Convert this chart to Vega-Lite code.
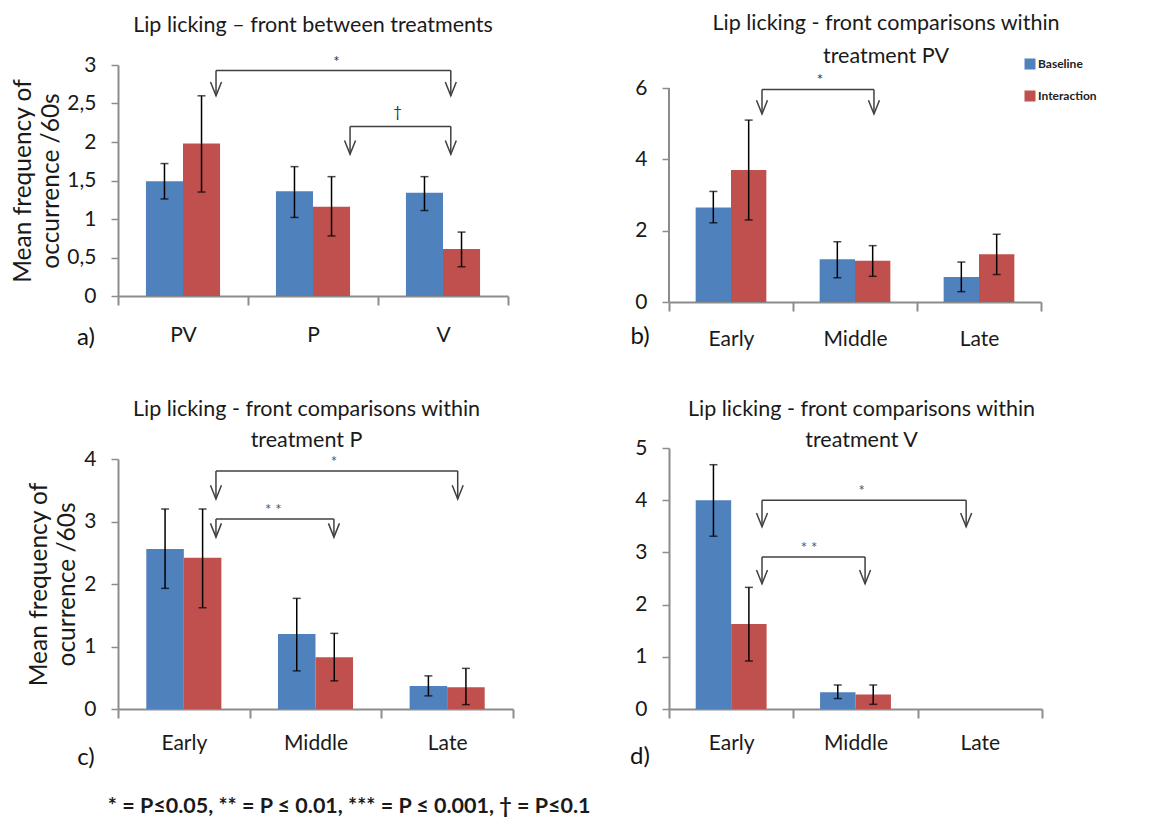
{
  "$schema": "https://vega.github.io/schema/vega-lite/v6.json",
  "background": "white",
  "padding": {"left": 10, "top": 12, "right": 0, "bottom": 0},
  "config": {"font": "Lato", "view": {"stroke": null}, "axis": {"labelOverlap": false}},
  "title": {"text": "* = P≤0.05,  ** = P ≤ 0.01,  *** = P ≤ 0.001, † = P≤0.1", "orient": "bottom", "anchor": "start", "frame": "bounds", "fontSize": 21.5, "fontWeight": "bold", "color": "#1a1a1a", "dx": 97, "offset": 26},
  "datasets": {
    "a": [
      {"cat": "PV", "series": "Baseline", "value": 1.49, "lo": 1.26, "hi": 1.72},
      {"cat": "PV", "series": "Interaction", "value": 1.98, "lo": 1.35, "hi": 2.6},
      {"cat": "P", "series": "Baseline", "value": 1.36, "lo": 1.02, "hi": 1.68},
      {"cat": "P", "series": "Interaction", "value": 1.16, "lo": 0.78, "hi": 1.55},
      {"cat": "V", "series": "Baseline", "value": 1.34, "lo": 1.11, "hi": 1.55},
      {"cat": "V", "series": "Interaction", "value": 0.61, "lo": 0.38, "hi": 0.83}
    ],
    "b": [
      {"cat": "Early", "series": "Baseline", "value": 2.65, "lo": 2.22, "hi": 3.1},
      {"cat": "Early", "series": "Interaction", "value": 3.7, "lo": 2.3, "hi": 5.1},
      {"cat": "Middle", "series": "Baseline", "value": 1.2, "lo": 0.68, "hi": 1.69},
      {"cat": "Middle", "series": "Interaction", "value": 1.16, "lo": 0.72, "hi": 1.58},
      {"cat": "Late", "series": "Baseline", "value": 0.7, "lo": 0.29, "hi": 1.12},
      {"cat": "Late", "series": "Interaction", "value": 1.34, "lo": 0.77, "hi": 1.9}
    ],
    "c": [
      {"cat": "Early", "series": "Baseline", "value": 2.56, "lo": 1.93, "hi": 3.2},
      {"cat": "Early", "series": "Interaction", "value": 2.42, "lo": 1.62, "hi": 3.2},
      {"cat": "Middle", "series": "Baseline", "value": 1.2, "lo": 0.61, "hi": 1.77},
      {"cat": "Middle", "series": "Interaction", "value": 0.83, "lo": 0.45, "hi": 1.21},
      {"cat": "Late", "series": "Baseline", "value": 0.37, "lo": 0.21, "hi": 0.53},
      {"cat": "Late", "series": "Interaction", "value": 0.35, "lo": 0.07, "hi": 0.65}
    ],
    "d": [
      {"cat": "Early", "series": "Baseline", "value": 4.0, "lo": 3.31, "hi": 4.68},
      {"cat": "Early", "series": "Interaction", "value": 1.63, "lo": 0.92, "hi": 2.33},
      {"cat": "Middle", "series": "Baseline", "value": 0.32, "lo": 0.2, "hi": 0.46},
      {"cat": "Middle", "series": "Interaction", "value": 0.28, "lo": 0.09, "hi": 0.46},
      {"cat": "Late", "series": "Baseline", "value": 0, "lo": null, "hi": null},
      {"cat": "Late", "series": "Interaction", "value": 0, "lo": null, "hi": null}
    ],
    "abr": [
      {"xa": 0.754, "xb": 2.56, "ytop": 2.93, "ytip": 2.6, "xm": 1.68, "ly": 3.08, "sig": "*"},
      {"xa": 1.785, "xb": 2.56, "ytop": 2.2, "ytip": 1.84, "xm": 2.15, "ly": 2.43, "sig": "†"}
    ],
    "bbr": [
      {"xa": 0.75, "xb": 1.653, "ytop": 5.96, "ytip": 5.27, "xm": 1.218, "ly": 6.3, "sig": "*"}
    ],
    "cbr": [
      {"xa": 0.744, "xb": 2.58, "ytop": 3.81, "ytip": 3.36, "xm": 1.64, "ly": 4.0, "sig": "*"},
      {"xa": 0.744, "xb": 1.64, "ytop": 3.04, "ytip": 2.75, "xm": 1.18, "ly": 3.23, "sig": "* *"}
    ],
    "dbr": [
      {"xa": 0.748, "xb": 2.39, "ytop": 4.0, "ytip": 3.49, "xm": 1.55, "ly": 4.23, "sig": "*"},
      {"xa": 0.748, "xb": 1.577, "ytop": 2.91, "ytip": 2.4, "xm": 1.126, "ly": 3.14, "sig": "* *"}
    ]
  },
  "resolve": {"scale": {"x": "independent", "y": "independent", "xOffset": "independent", "color": "independent"}, "legend": {"color": "independent"}},
  "columns": 2,
  "align": "none",
  "spacing": {"row": 48, "column": 116},
  "concat": [
    {
      "width": 390, "height": 231,
      "title": {"text": "Lip licking – front between treatments", "fontSize": 21.5, "fontWeight": "normal", "color": "#1a1a1a", "offset": 18, "frame": "group"},
      "resolve": {"scale": {"x": "independent"}, "axis": {"y": "independent"}},
      "layer": [
        {
          "data": {"name": "a"},
          "resolve": {"axis": {"y": "independent"}},
          "encoding": {
            "x": {"field": "cat", "type": "nominal", "title": null, "scale": {"domain": ["PV", "P", "V"], "paddingInner": 0, "paddingOuter": 0},
              "axis": {"tickBand": "extent", "tickSize": 9, "labelFontSize": 21, "labelPadding": 19, "labelAngle": 0, "labelColor": "#1a1a1a", "domainColor": "#8c8c8c", "domainWidth": 2, "tickColor": "#8c8c8c", "tickWidth": 2}},
            "xOffset": {"field": "series", "type": "nominal", "scale": {"domain": ["Baseline", "Interaction"], "paddingInner": 0, "paddingOuter": 0.754}}
          },
          "layer": [
            {"mark": {"type": "bar"},
             "encoding": {
               "y": {"field": "value", "type": "quantitative", "scale": {"domain": [0, 3], "nice": false},
                 "axis": {"title": ["Mean frequency of", "occurrence /60s"], "values": [0, 0.5, 1, 1.5, 2, 2.5, 3], "format": "~g", "labelExpr": "replace(datum.label, '.', ',')", "labelOverlap": false, "grid": false, "labelFontSize": 21, "labelColor": "#1a1a1a", "labelPadding": 15, "tickSize": 7, "tickColor": "#8c8c8c", "tickWidth": 1.5, "domainColor": "#8c8c8c", "domainWidth": 2, "titleFontSize": 24.5, "titleFontWeight": "normal", "titleColor": "#1a1a1a", "titleLineHeight": 28, "titlePadding": 3}},
               "color": {"field": "series", "type": "nominal", "scale": {"domain": ["Baseline", "Interaction"], "range": ["#4F81BD", "#C0504D"]}, "legend": null}
             }},
            {"mark": {"type": "rule", "color": "black", "strokeWidth": 1.5},
             "encoding": {"y": {"field": "lo", "type": "quantitative", "axis": null}, "y2": {"field": "hi"}}},
            {"mark": {"type": "tick", "color": "black", "thickness": 1.5, "size": 8, "orient": "horizontal"},
             "encoding": {"y": {"field": "lo", "type": "quantitative", "axis": null}}},
            {"mark": {"type": "tick", "color": "black", "thickness": 1.5, "size": 8, "orient": "horizontal"},
             "encoding": {"y": {"field": "hi", "type": "quantitative", "axis": null}}}
          ]
        },
        {
          "data": {"name": "abr"},
          "layer": [
            {"mark": {"type": "rule", "color": "#404040", "strokeWidth": 1.5},
             "encoding": {"x": {"field": "xa", "type": "quantitative", "scale": {"domain": [0, 3], "nice": false, "zero": false}, "axis": null}, "x2": {"field": "xb"}, "y": {"field": "ytop", "type": "quantitative", "axis": null}}},
            {"mark": {"type": "rule", "color": "#404040", "strokeWidth": 1.5},
             "encoding": {"x": {"field": "xa", "type": "quantitative", "axis": null}, "y": {"field": "ytop", "type": "quantitative", "axis": null}, "y2": {"field": "ytip"}}},
            {"mark": {"type": "rule", "color": "#404040", "strokeWidth": 1.5},
             "encoding": {"x": {"field": "xb", "type": "quantitative", "axis": null}, "y": {"field": "ytop", "type": "quantitative", "axis": null}, "y2": {"field": "ytip"}}},
            {"mark": {"type": "point", "shape": "M-1,-2.5L0,0L1,-2.5", "size": 121, "filled": false, "color": "#404040", "strokeWidth": 1.5, "opacity": 1},
             "encoding": {"x": {"field": "xa", "type": "quantitative", "axis": null}, "y": {"field": "ytip", "type": "quantitative", "axis": null}}},
            {"mark": {"type": "point", "shape": "M-1,-2.5L0,0L1,-2.5", "size": 121, "filled": false, "color": "#404040", "strokeWidth": 1.5, "opacity": 1},
             "encoding": {"x": {"field": "xb", "type": "quantitative", "axis": null}, "y": {"field": "ytip", "type": "quantitative", "axis": null}}},
            {"mark": {"type": "text", "fontSize": 15, "color": "#333333", "baseline": "middle", "dy": 3},
             "encoding": {"x": {"field": "xm", "type": "quantitative", "axis": null}, "y": {"field": "ly", "type": "quantitative", "axis": null}, "text": {"field": "sig"}}},
            {"data": {"values": [{"t": "a)", "px": -0.246, "py": -0.545}]},
             "mark": {"type": "text", "fontSize": 24, "color": "#111111", "baseline": "middle"},
             "encoding": {"x": {"field": "px", "type": "quantitative", "axis": null}, "y": {"field": "py", "type": "quantitative", "axis": null}, "text": {"field": "t"}}}
          ]
        }
      ]
    },
    {
      "width": 372, "height": 237,
      "title": {"text": ["Lip licking - front comparisons within", "treatment PV"], "lineHeight": 33, "fontSize": 21.5, "fontWeight": "normal", "color": "#1a1a1a", "offset": -9, "dx": 31, "frame": "group"},
      "resolve": {"scale": {"x": "independent"}, "axis": {"y": "independent"}},
      "layer": [
        {
          "data": {"name": "b"},
          "resolve": {"axis": {"y": "independent"}},
          "encoding": {
            "x": {"field": "cat", "type": "nominal", "title": null, "scale": {"domain": ["Early", "Middle", "Late"], "paddingInner": 0, "paddingOuter": 0},
              "axis": {"tickBand": "extent", "tickSize": 9, "labelFontSize": 21, "labelPadding": 17, "labelAngle": 0, "labelColor": "#1a1a1a", "domainColor": "#8c8c8c", "domainWidth": 2, "tickColor": "#8c8c8c", "tickWidth": 2}},
            "xOffset": {"field": "series", "type": "nominal", "scale": {"domain": ["Baseline", "Interaction"], "paddingInner": 0, "paddingOuter": 0.754}}
          },
          "layer": [
            {"mark": {"type": "bar"},
             "encoding": {
               "y": {"field": "value", "type": "quantitative", "scale": {"domain": [0, 6.645], "nice": false},
                 "axis": {"title": null, "values": [0, 2, 4, 6], "format": "d", "labelOverlap": false, "domain": false, "grid": false, "labelFontSize": 21, "labelColor": "#1a1a1a", "labelPadding": 15, "tickSize": 7, "tickColor": "#8c8c8c", "tickWidth": 1.5}},
               "color": {"field": "series", "type": "nominal", "scale": {"domain": ["Baseline", "Interaction"], "range": ["#4F81BD", "#C0504D"]},
                 "legend": {"orient": "none", "legendX": 355, "legendY": -7, "title": null, "symbolType": "square", "symbolSize": 121, "symbolStrokeWidth": 0, "labelFontSize": 12, "labelFontWeight": "bold", "labelColor": "#222222", "rowPadding": 20, "labelOffset": 2}}
             }},
            {"mark": {"type": "rule", "color": "black", "strokeWidth": 1.5},
             "encoding": {"y": {"field": "lo", "type": "quantitative", "axis": null}, "y2": {"field": "hi"}}},
            {"mark": {"type": "tick", "color": "black", "thickness": 1.5, "size": 8, "orient": "horizontal"},
             "encoding": {"y": {"field": "lo", "type": "quantitative", "axis": null}}},
            {"mark": {"type": "tick", "color": "black", "thickness": 1.5, "size": 8, "orient": "horizontal"},
             "encoding": {"y": {"field": "hi", "type": "quantitative", "axis": null}}}
          ]
        },
        {
          "data": {"name": "bbr"},
          "layer": [
            {"mark": {"type": "rule", "color": "#404040", "strokeWidth": 1.5},
             "encoding": {"x": {"field": "xa", "type": "quantitative", "scale": {"domain": [0, 3], "nice": false, "zero": false}, "axis": null}, "x2": {"field": "xb"}, "y": {"field": "ytop", "type": "quantitative", "axis": null}}},
            {"mark": {"type": "rule", "color": "#404040", "strokeWidth": 1.5},
             "encoding": {"x": {"field": "xa", "type": "quantitative", "axis": null}, "y": {"field": "ytop", "type": "quantitative", "axis": null}, "y2": {"field": "ytip"}}},
            {"mark": {"type": "rule", "color": "#404040", "strokeWidth": 1.5},
             "encoding": {"x": {"field": "xb", "type": "quantitative", "axis": null}, "y": {"field": "ytop", "type": "quantitative", "axis": null}, "y2": {"field": "ytip"}}},
            {"mark": {"type": "point", "shape": "M-1,-2.5L0,0L1,-2.5", "size": 121, "filled": false, "color": "#404040", "strokeWidth": 1.5, "opacity": 1},
             "encoding": {"x": {"field": "xa", "type": "quantitative", "axis": null}, "y": {"field": "ytip", "type": "quantitative", "axis": null}}},
            {"mark": {"type": "point", "shape": "M-1,-2.5L0,0L1,-2.5", "size": 121, "filled": false, "color": "#404040", "strokeWidth": 1.5, "opacity": 1},
             "encoding": {"x": {"field": "xb", "type": "quantitative", "axis": null}, "y": {"field": "ytip", "type": "quantitative", "axis": null}}},
            {"mark": {"type": "text", "fontSize": 15, "color": "#333333", "baseline": "middle", "dy": 3},
             "encoding": {"x": {"field": "xm", "type": "quantitative", "axis": null}, "y": {"field": "ly", "type": "quantitative", "axis": null}, "text": {"field": "sig"}}},
            {"data": {"values": [{"x0": 0, "y0": 0, "y1": 6}]},
             "mark": {"type": "rule", "color": "#8c8c8c", "strokeWidth": 2},
             "encoding": {"x": {"field": "x0", "type": "quantitative", "axis": null}, "y": {"field": "y0", "type": "quantitative", "axis": null}, "y2": {"field": "y1"}}},
            {"data": {"values": [{"t": "b)", "px": -0.234, "py": -0.98}]},
             "mark": {"type": "text", "fontSize": 24, "color": "#111111", "baseline": "middle"},
             "encoding": {"x": {"field": "px", "type": "quantitative", "axis": null}, "y": {"field": "py", "type": "quantitative", "axis": null}, "text": {"field": "t"}}}
          ]
        }
      ]
    },
    {
      "width": 395, "height": 250,
      "title": {"text": ["Lip licking - front comparisons within", "treatment P"], "lineHeight": 31, "fontSize": 21.5, "fontWeight": "normal", "color": "#1a1a1a", "offset": -3, "dx": -9, "frame": "group"},
      "resolve": {"scale": {"x": "independent"}, "axis": {"y": "independent"}},
      "layer": [
        {
          "data": {"name": "c"},
          "resolve": {"axis": {"y": "independent"}},
          "encoding": {
            "x": {"field": "cat", "type": "nominal", "title": null, "scale": {"domain": ["Early", "Middle", "Late"], "paddingInner": 0, "paddingOuter": 0},
              "axis": {"tickBand": "extent", "tickSize": 9, "labelFontSize": 21, "labelPadding": 14, "labelAngle": 0, "labelColor": "#1a1a1a", "domainColor": "#8c8c8c", "domainWidth": 2, "tickColor": "#8c8c8c", "tickWidth": 2}},
            "xOffset": {"field": "series", "type": "nominal", "scale": {"domain": ["Baseline", "Interaction"], "paddingInner": 0, "paddingOuter": 0.754}}
          },
          "layer": [
            {"mark": {"type": "bar"},
             "encoding": {
               "y": {"field": "value", "type": "quantitative", "scale": {"domain": [0, 4], "nice": false},
                 "axis": {"title": ["Mean frequency of", "ocurrence /60s"], "values": [0, 1, 2, 3, 4], "format": "d", "labelOverlap": false, "grid": false, "labelFontSize": 21, "labelColor": "#1a1a1a", "labelPadding": 15, "tickSize": 7, "tickColor": "#8c8c8c", "tickWidth": 1.5, "domainColor": "#8c8c8c", "domainWidth": 2, "titleFontSize": 24.5, "titleFontWeight": "normal", "titleColor": "#1a1a1a", "titleLineHeight": 28, "titlePadding": 4}},
               "color": {"field": "series", "type": "nominal", "scale": {"domain": ["Baseline", "Interaction"], "range": ["#4F81BD", "#C0504D"]}, "legend": null}
             }},
            {"mark": {"type": "rule", "color": "black", "strokeWidth": 1.5},
             "encoding": {"y": {"field": "lo", "type": "quantitative", "axis": null}, "y2": {"field": "hi"}}},
            {"mark": {"type": "tick", "color": "black", "thickness": 1.5, "size": 8, "orient": "horizontal"},
             "encoding": {"y": {"field": "lo", "type": "quantitative", "axis": null}}},
            {"mark": {"type": "tick", "color": "black", "thickness": 1.5, "size": 8, "orient": "horizontal"},
             "encoding": {"y": {"field": "hi", "type": "quantitative", "axis": null}}}
          ]
        },
        {
          "data": {"name": "cbr"},
          "layer": [
            {"mark": {"type": "rule", "color": "#404040", "strokeWidth": 1.5},
             "encoding": {"x": {"field": "xa", "type": "quantitative", "scale": {"domain": [0, 3], "nice": false, "zero": false}, "axis": null}, "x2": {"field": "xb"}, "y": {"field": "ytop", "type": "quantitative", "axis": null}}},
            {"mark": {"type": "rule", "color": "#404040", "strokeWidth": 1.5},
             "encoding": {"x": {"field": "xa", "type": "quantitative", "axis": null}, "y": {"field": "ytop", "type": "quantitative", "axis": null}, "y2": {"field": "ytip"}}},
            {"mark": {"type": "rule", "color": "#404040", "strokeWidth": 1.5},
             "encoding": {"x": {"field": "xb", "type": "quantitative", "axis": null}, "y": {"field": "ytop", "type": "quantitative", "axis": null}, "y2": {"field": "ytip"}}},
            {"mark": {"type": "point", "shape": "M-1,-2.5L0,0L1,-2.5", "size": 121, "filled": false, "color": "#404040", "strokeWidth": 1.5, "opacity": 1},
             "encoding": {"x": {"field": "xa", "type": "quantitative", "axis": null}, "y": {"field": "ytip", "type": "quantitative", "axis": null}}},
            {"mark": {"type": "point", "shape": "M-1,-2.5L0,0L1,-2.5", "size": 121, "filled": false, "color": "#404040", "strokeWidth": 1.5, "opacity": 1},
             "encoding": {"x": {"field": "xb", "type": "quantitative", "axis": null}, "y": {"field": "ytip", "type": "quantitative", "axis": null}}},
            {"mark": {"type": "text", "fontSize": 15, "color": "#555555", "baseline": "middle", "dy": 3},
             "encoding": {"x": {"field": "xm", "type": "quantitative", "axis": null}, "y": {"field": "ly", "type": "quantitative", "axis": null}, "text": {"field": "sig"}}},
            {"data": {"values": [{"t": "c)", "px": -0.243, "py": -0.78}]},
             "mark": {"type": "text", "fontSize": 24, "color": "#111111", "baseline": "middle"},
             "encoding": {"x": {"field": "px", "type": "quantitative", "axis": null}, "y": {"field": "py", "type": "quantitative", "axis": null}, "text": {"field": "t"}}}
          ]
        }
      ]
    },
    {
      "width": 373, "height": 261,
      "title": {"text": ["Lip licking - front comparisons within", "treatment V"], "lineHeight": 31, "fontSize": 21.5, "fontWeight": "normal", "color": "#1a1a1a", "offset": -14, "dx": 6, "frame": "group"},
      "resolve": {"scale": {"x": "independent"}, "axis": {"y": "independent"}},
      "layer": [
        {
          "data": {"name": "d"},
          "resolve": {"axis": {"y": "independent"}},
          "encoding": {
            "x": {"field": "cat", "type": "nominal", "title": null, "scale": {"domain": ["Early", "Middle", "Late"], "paddingInner": 0, "paddingOuter": 0},
              "axis": {"tickBand": "extent", "tickSize": 9, "labelFontSize": 21, "labelPadding": 14, "labelAngle": 0, "labelColor": "#1a1a1a", "domainColor": "#8c8c8c", "domainWidth": 2, "tickColor": "#8c8c8c", "tickWidth": 2}},
            "xOffset": {"field": "series", "type": "nominal", "scale": {"domain": ["Baseline", "Interaction"], "paddingInner": 0, "paddingOuter": 0.754}}
          },
          "layer": [
            {"mark": {"type": "bar"},
             "encoding": {
               "y": {"field": "value", "type": "quantitative", "scale": {"domain": [0, 5], "nice": false},
                 "axis": {"title": null, "values": [0, 1, 2, 3, 4, 5], "format": "d", "labelOverlap": false, "grid": false, "labelFontSize": 21, "labelColor": "#1a1a1a", "labelPadding": 15, "tickSize": 7, "tickColor": "#8c8c8c", "tickWidth": 1.5, "domainColor": "#8c8c8c", "domainWidth": 2}},
               "color": {"field": "series", "type": "nominal", "scale": {"domain": ["Baseline", "Interaction"], "range": ["#4F81BD", "#C0504D"]}, "legend": null}
             }},
            {"mark": {"type": "rule", "color": "black", "strokeWidth": 1.5},
             "encoding": {"y": {"field": "lo", "type": "quantitative", "axis": null}, "y2": {"field": "hi"}}},
            {"mark": {"type": "tick", "color": "black", "thickness": 1.5, "size": 8, "orient": "horizontal"},
             "encoding": {"y": {"field": "lo", "type": "quantitative", "axis": null}}},
            {"mark": {"type": "tick", "color": "black", "thickness": 1.5, "size": 8, "orient": "horizontal"},
             "encoding": {"y": {"field": "hi", "type": "quantitative", "axis": null}}}
          ]
        },
        {
          "data": {"name": "dbr"},
          "layer": [
            {"mark": {"type": "rule", "color": "#404040", "strokeWidth": 1.5},
             "encoding": {"x": {"field": "xa", "type": "quantitative", "scale": {"domain": [0, 3], "nice": false, "zero": false}, "axis": null}, "x2": {"field": "xb"}, "y": {"field": "ytop", "type": "quantitative", "axis": null}}},
            {"mark": {"type": "rule", "color": "#404040", "strokeWidth": 1.5},
             "encoding": {"x": {"field": "xa", "type": "quantitative", "axis": null}, "y": {"field": "ytop", "type": "quantitative", "axis": null}, "y2": {"field": "ytip"}}},
            {"mark": {"type": "rule", "color": "#404040", "strokeWidth": 1.5},
             "encoding": {"x": {"field": "xb", "type": "quantitative", "axis": null}, "y": {"field": "ytop", "type": "quantitative", "axis": null}, "y2": {"field": "ytip"}}},
            {"mark": {"type": "point", "shape": "M-1,-2.5L0,0L1,-2.5", "size": 121, "filled": false, "color": "#404040", "strokeWidth": 1.5, "opacity": 1},
             "encoding": {"x": {"field": "xa", "type": "quantitative", "axis": null}, "y": {"field": "ytip", "type": "quantitative", "axis": null}}},
            {"mark": {"type": "point", "shape": "M-1,-2.5L0,0L1,-2.5", "size": 121, "filled": false, "color": "#404040", "strokeWidth": 1.5, "opacity": 1},
             "encoding": {"x": {"field": "xb", "type": "quantitative", "axis": null}, "y": {"field": "ytip", "type": "quantitative", "axis": null}}},
            {"mark": {"type": "text", "fontSize": 15, "color": "#555555", "baseline": "middle", "dy": 3},
             "encoding": {"x": {"field": "xm", "type": "quantitative", "axis": null}, "y": {"field": "ly", "type": "quantitative", "axis": null}, "text": {"field": "sig"}}},
            {"data": {"values": [{"t": "d)", "px": -0.233, "py": -0.92}]},
             "mark": {"type": "text", "fontSize": 24, "color": "#111111", "baseline": "middle"},
             "encoding": {"x": {"field": "px", "type": "quantitative", "axis": null}, "y": {"field": "py", "type": "quantitative", "axis": null}, "text": {"field": "t"}}}
          ]
        }
      ]
    }
  ]
}
